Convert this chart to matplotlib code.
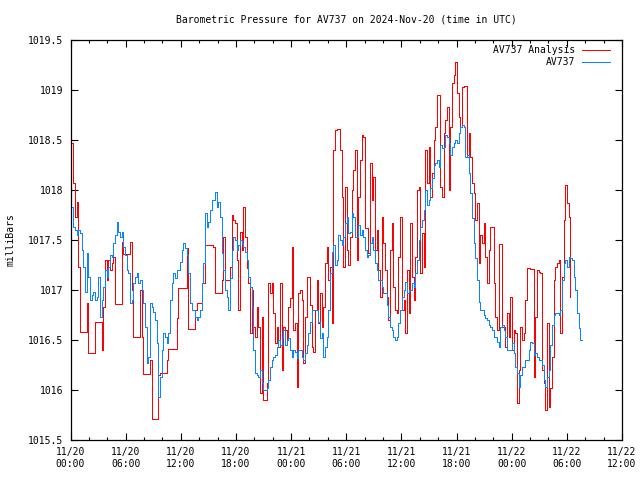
import numpy as np
import matplotlib
matplotlib.use("Agg")
import matplotlib.pyplot as plt

plt.rcParams['font.family'] = ['DejaVu Sans Mono']
plt.rcParams['font.size'] = 7

# sampling grid (hours since 2024-11-20 00:00 UTC)
t0 = 0.13
dt = 0.1814

blue = [
    1017.83, 1017.63, 1017.60, 1017.55, 1017.60, 1017.57, 1017.40, 1017.23, 1016.98, 1017.37,
    1017.13, 1016.90, 1016.95, 1016.98, 1016.90, 1016.93, 1017.13, 1016.73, 1016.90, 1017.03,
    1017.20, 1017.13, 1017.23, 1017.35, 1017.33, 1017.47, 1017.55, 1017.68, 1017.58, 1017.53,
    1017.58, 1017.43, 1017.35, 1017.20, 1017.17, 1016.87, 1016.90, 1017.07, 1017.13, 1017.17,
    1017.07, 1017.10, 1017.00, 1016.87, 1016.63, 1016.27, 1016.33, 1016.87, 1016.83, 1016.78,
    1016.70, 1016.47, 1015.93,
    1016.13, 1016.40, 1016.57, 1016.53, 1016.47, 1016.57, 1016.90, 1017.07, 1017.17, 1017.12,
    1017.20, 1017.20, 1017.28, 1017.40, 1017.47, 1017.42, 1017.35, 1017.17, 1016.87, 1016.80,
    1016.80, 1016.73, 1016.70, 1016.73, 1016.80, 1017.07, 1017.27, 1017.77, 1017.63, 1017.68,
    1017.80, 1017.90, 1017.90, 1017.98, 1017.83, 1017.88, 1017.73, 1017.37, 1017.20, 1017.00,
    1016.93, 1016.80, 1017.12, 1017.40, 1017.53, 1017.50, 1017.40, 1017.45, 1017.50, 1017.47,
    1017.43, 1017.38, 1017.30, 1017.13, 1017.03, 1016.83, 1016.40,
    1016.17, 1016.15, 1016.13, 1016.20, 1016.07, 1016.00, 1016.00, 1016.02, 1016.10, 1016.23,
    1016.30, 1016.33, 1016.35, 1016.43, 1016.50, 1016.45, 1016.53, 1016.60, 1016.45, 1016.50,
    1016.52, 1016.40, 1016.33, 1016.40, 1016.38, 1016.32, 1016.40, 1016.40, 1016.33, 1016.30,
    1016.37, 1016.45, 1016.57, 1016.68, 1016.80, 1016.80, 1016.80, 1016.80, 1016.68, 1016.52,
    1016.57, 1016.33, 1016.43, 1016.53, 1016.80, 1017.17, 1017.38, 1017.45, 1017.25, 1017.30,
    1017.55, 1017.50, 1017.45, 1017.53, 1017.67, 1017.73, 1017.57,
    1017.58, 1017.77, 1017.73, 1017.53, 1017.53, 1017.65, 1017.55, 1017.60, 1017.53, 1017.40,
    1017.33, 1017.35, 1017.47, 1017.53, 1017.40, 1017.27, 1017.20, 1017.10, 1017.10, 1017.03,
    1016.97, 1016.97, 1016.85, 1016.73, 1016.63, 1016.60, 1016.53, 1016.50, 1016.53, 1016.67,
    1016.80, 1016.93, 1017.00, 1017.08, 1016.97, 1017.00, 1017.00, 1017.07, 1017.03, 1017.17,
    1017.30, 1017.50, 1017.63, 1017.70, 1017.80, 1018.00, 1017.85, 1017.90, 1018.02, 1018.12,
    1018.25, 1018.27, 1018.30, 1018.23, 1018.45, 1018.42, 1018.43,
    1018.55, 1018.53, 1018.47, 1018.35, 1018.43, 1018.47, 1018.50, 1018.47, 1018.57, 1018.63,
    1018.65, 1018.63, 1018.33, 1018.35, 1018.17, 1017.97, 1017.72, 1017.47, 1017.32, 1017.10,
    1016.88, 1016.80, 1016.80, 1016.75, 1016.72, 1016.70, 1016.65, 1016.63, 1016.60, 1016.53,
    1016.53, 1016.48, 1016.43, 1016.63, 1016.65, 1016.60, 1016.53, 1016.40, 1016.40, 1016.40,
    1016.47, 1016.37, 1016.23, 1016.17, 1016.03, 1016.15, 1016.23, 1016.23, 1016.30, 1016.30,
    1016.40,
    1016.48, 1016.47, 1016.35, 1016.37, 1016.33, 1016.30, 1016.30, 1016.25, 1016.10, 1016.03,
    1016.13, 1016.20, 1016.45, 1016.65, 1016.75, 1016.77, 1016.77, 1016.75, 1016.80, 1017.10,
    1017.27, 1017.30, 1017.23, 1017.33, 1017.32, 1017.30, 1017.13, 1017.00, 1016.77, 1016.62,
    1016.50, 1016.50,
]

red = [
    1018.47, 1018.07, 1017.73, 1017.88, 1017.23, 1016.58, 1016.58, 1016.58, 1016.58, 1016.87,
    1016.37, 1016.37, 1016.37, 1016.37, 1016.68, 1016.68, 1016.68, 1016.68, 1016.40, 1016.83,
    1017.30, 1017.10, 1017.30, 1017.20, 1017.27, 1017.33, 1016.86, 1016.86, 1016.86, 1016.86,
    1017.48, 1017.36, 1017.36, 1017.36, 1017.36, 1017.48, 1017.00, 1016.53, 1016.53, 1016.53,
    1016.53, 1017.00, 1016.53, 1016.16, 1016.16, 1016.16, 1016.16, 1016.30, 1015.71, 1015.71,
    1015.71, 1015.71, 1016.15,
    1016.17, 1016.17, 1016.17, 1016.17, 1016.30, 1016.41, 1016.41, 1016.41, 1016.41, 1016.41,
    1016.72, 1017.02, 1017.02, 1017.02, 1017.02, 1017.02, 1017.42, 1016.61, 1016.61, 1016.61,
    1016.61, 1016.80, 1016.87, 1016.87, 1016.87, 1017.07, 1017.07, 1017.45, 1017.45, 1017.45,
    1017.45, 1017.45, 1017.43, 1016.97, 1016.97, 1016.97, 1016.97, 1017.10, 1017.53, 1017.10,
    1017.10, 1017.10, 1017.23, 1017.75, 1017.70, 1017.67, 1017.30, 1016.80, 1017.58, 1017.40,
    1017.83, 1017.53, 1017.22, 1017.07, 1016.57, 1017.00, 1016.63,
    1016.53, 1016.83, 1016.63, 1015.97, 1016.73, 1015.90, 1015.90, 1016.07, 1017.07, 1016.97,
    1017.07, 1016.77, 1016.47, 1016.63, 1016.43, 1017.07, 1016.20, 1016.63, 1016.60, 1016.50,
    1016.83, 1016.92, 1017.43, 1016.60, 1016.67, 1016.03, 1016.97, 1017.00, 1016.90, 1016.27,
    1016.73, 1017.13, 1017.13, 1016.85, 1016.43, 1016.38, 1016.80, 1017.10, 1016.67, 1016.97,
    1016.63, 1016.83, 1017.27, 1017.43, 1017.10, 1017.23, 1016.67, 1018.40, 1018.60, 1018.61,
    1018.61, 1018.40, 1017.93, 1017.23, 1018.03, 1017.40, 1017.25,
    1017.53, 1018.00, 1018.20, 1018.40, 1017.30, 1017.93, 1018.30, 1018.55, 1018.53, 1017.62,
    1017.62, 1017.37, 1018.27, 1017.90, 1018.13, 1017.40, 1017.60, 1017.20, 1016.93, 1017.73,
    1017.47, 1017.20, 1016.93, 1016.70, 1017.40, 1017.67, 1017.03, 1016.80, 1016.77, 1017.33,
    1017.73, 1016.80, 1016.90, 1016.57, 1017.20, 1016.77, 1017.67, 1017.13, 1016.90, 1017.33,
    1018.00, 1018.03, 1017.17, 1017.57, 1017.23, 1018.40, 1018.07, 1018.43, 1017.93, 1018.17,
    1018.50, 1018.63, 1018.95, 1018.95, 1018.03, 1017.93, 1018.57,
    1018.70, 1018.83, 1018.00, 1018.63, 1019.07, 1019.15, 1019.28, 1018.97, 1018.73, 1018.63,
    1019.03, 1019.04, 1019.04, 1018.33, 1018.57, 1018.33, 1018.07, 1017.97, 1017.70, 1017.87,
    1017.27, 1017.55, 1017.47, 1017.67, 1017.33, 1017.07, 1017.40, 1017.63, 1017.63, 1017.07,
    1016.73, 1016.60, 1017.46, 1017.46, 1016.63, 1016.63, 1016.43, 1016.77, 1016.53, 1016.93,
    1016.40, 1016.60, 1016.57, 1015.87, 1016.20, 1016.63, 1016.50, 1016.57, 1016.90, 1017.22,
    1017.22,
    1017.21, 1017.21, 1016.13, 1016.73, 1017.20, 1017.18, 1017.17, 1016.20, 1016.07, 1015.80,
    1016.67, 1015.83, 1016.02, 1016.33, 1017.10, 1017.23, 1017.27, 1017.30, 1016.57, 1017.13,
    1017.70, 1018.05, 1017.87, 1017.73, 1016.93,
]

xtick_hours = [0, 6, 12, 18, 24, 30, 36, 42, 48, 54, 60]
xtick_labels = ["11/20\n00:00", "11/20\n06:00", "11/20\n12:00", "11/20\n18:00",
                "11/21\n00:00", "11/21\n06:00", "11/21\n12:00", "11/21\n18:00",
                "11/22\n00:00", "11/22\n06:00", "11/22\n12:00"]
ytick_vals = [1015.5, 1016, 1016.5, 1017, 1017.5, 1018, 1018.5, 1019, 1019.5]
ytick_labels = ["1015.5", "1016", "1016.5", "1017", "1017.5", "1018", "1018.5", "1019", "1019.5"]

t_blue = t0 + dt * np.arange(len(blue))
t_red = t0 + dt * np.arange(len(red))

fig = plt.figure(figsize=(6.4, 4.8), dpi=100)
ax = fig.add_axes([70.5 / 640, 40 / 480, 551.5 / 640, 400 / 480])

l_red, = ax.step(t_red, red, where='post', color='#ff0000', lw=0.72, antialiased=False)
l_blue, = ax.step(t_blue, blue, where='post', color='#0a84ff', lw=0.72, antialiased=False)

ax.set_xlim(0, 60)
ax.set_ylim(1015.5, 1019.5)
ax.set_xticks(xtick_hours)
ax.set_xticklabels(xtick_labels, linespacing=1.25)
ax.set_xticks(np.arange(0, 61, 2), minor=True)
ax.set_yticks(ytick_vals)
ax.set_yticklabels(ytick_labels)
ax.tick_params(which='both', direction='in', top=True, right=True, width=0.8, color='black')
ax.tick_params(axis='x', which='major', length=5, pad=5)
ax.tick_params(axis='x', which='minor', length=2.5)
ax.tick_params(axis='y', which='major', length=5, pad=5)
for s in ax.spines.values():
    s.set_linewidth(0.9)

fig.text(346 / 640, 1 - 20 / 480, "Barometric Pressure for AV737 on 2024-Nov-20 (time in UTC)",
         ha='center', va='center')
fig.text(11 / 640, 0.5, "milliBars", rotation=90, ha='center', va='center')

leg = ax.legend([l_red, l_blue], ["AV737 Analysis", "AV737"], loc='upper right',
                bbox_to_anchor=(610 / 640, 1 - 45 / 480), bbox_transform=fig.transFigure,
                frameon=False, markerfirst=False, handlelength=2.9, handletextpad=0.7,
                borderpad=0, borderaxespad=0, labelspacing=0.2)

fig.savefig("out.png", dpi=100)
